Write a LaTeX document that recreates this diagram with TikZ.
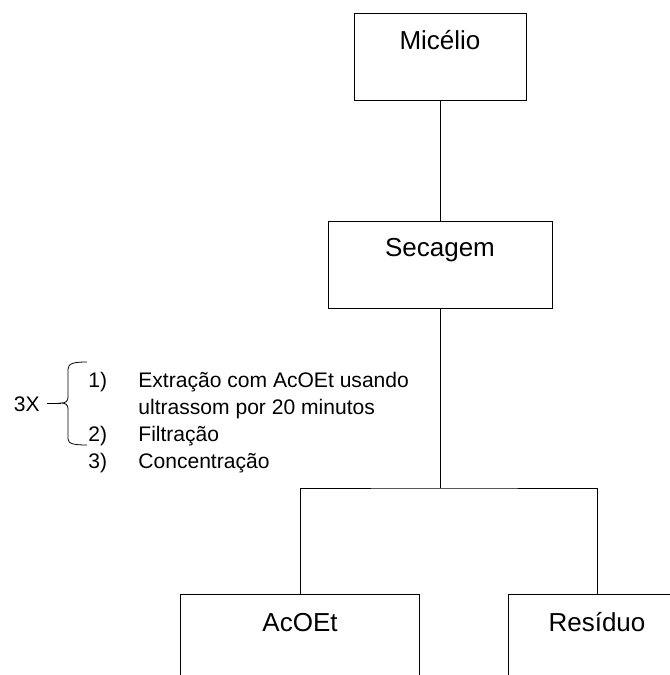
\documentclass[tikz,border=0pt]{standalone}
\usepackage{fontspec}
\setmainfont{Liberation Sans}
\usetikzlibrary{positioning}

\begin{document}
\begin{tikzpicture}[x=0.75pt, y=-0.75pt, line width=0.6pt,
  stage/.style={draw, anchor=north, inner sep=0pt, font=\fontsize{19.5}{23}\selectfont,
    text height=27pt, text depth=38pt},
  item/.style={anchor=base west, inner sep=0pt, font=\fontsize{15.8}{18}\selectfont}]
  \useasboundingbox (0,0) rectangle (670,675);
  \clip (0,0) rectangle (670,675);

  \node[stage, minimum width=129pt] (micelio) at (440,13) {Micélio};
  \node[stage, minimum width=168pt, text height=26.5pt, text depth=38.75pt] (secagem) at (440,221) {Secagem};
  \node[stage, minimum width=179.25pt, text height=28pt, text depth=90pt] (acoet) at (300,594) {AcOEt};
  \node[stage, minimum width=133.5pt, text height=28pt, text depth=90pt] (residuo) at (597,594) {Resíduo};
  \coordinate (split) at (440,488);

  \draw (micelio) -- (secagem);
  \draw (secagem) -- (split);
  \draw (acoet.north) |- (split) -| (residuo.north);

  \node[item, anchor=base east] (times) at (40,411) {3X};
  \coordinate (tip) at (61,403);
  \draw ([xshift=5pt]times.east |- tip) -- (tip);
  \draw (87,362) .. controls (75,362) and (68,363) .. (68,369) -- (68,397)
    .. controls (68,401) and (66,403) .. (tip)
    .. controls (66,403) and (68,405) .. (68,409) -- (68,439)
    .. controls (68,444) and (75,445) .. (87,445);

  \node[item] (n1) at (88,387) {1)};
  \node[item] (t1) at (138,387) {Extração com AcOEt usando};
  \node[item] (t1b) at (138,414) {ultrassom por 20 minutos};
  \node[item] (n2) at (88,441) {2)};
  \node[item] (t2) at (138,441) {Filtração};
  \node[item] (n3) at (88,468) {3)};
  \node[item] (t3) at (138,468) {Concentração};
\end{tikzpicture}
\end{document}
